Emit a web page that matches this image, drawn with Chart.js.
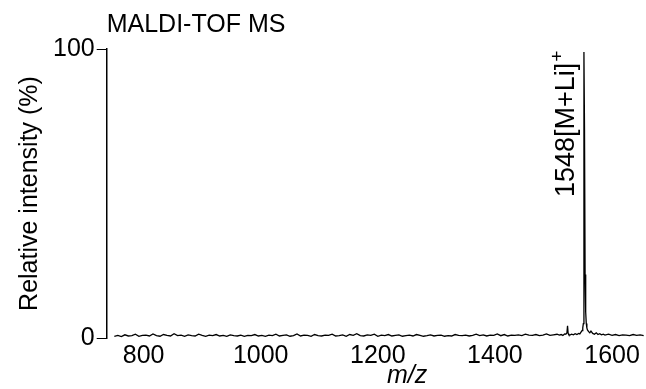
<!DOCTYPE html>
<html>
<head>
<meta charset="utf-8">
<script src="https://cdn.jsdelivr.net/npm/chart.js@4"></script>
<style>
  html, body { margin: 0; padding: 0; background: #fff; }
  #wrap { width: 646px; height: 389px; position: relative; }
</style>
</head>
<body>
<div id="wrap"><canvas id="myChart"></canvas></div>
<script>
// baseline noise, m/z 750 .. 1506 every 6 units (relative intensity %)
var noiseStart = 750;
var noiseStep = 6;
var noiseIntensity = [
  0.6,0.9,0.5,1.1,0.7,0.8,1.3,0.6,0.9,1.0,0.7,1.4,0.8,0.6,1.2,0.9,0.7,1.5,0.8,1.0,
  0.6,1.1,0.8,0.7,1.3,0.9,0.6,1.0,0.8,1.2,0.7,0.9,0.6,1.1,0.8,0.7,1.0,0.6,0.9,0.8,
  1.2,0.7,0.9,0.6,1.0,0.8,1.3,0.7,0.9,1.1,0.6,0.8,1.4,0.7,1.0,0.9,0.6,1.2,0.8,0.7,
  1.0,0.9,1.3,0.7,0.8,1.1,0.6,1.2,0.9,1.5,0.8,0.7,1.1,0.9,1.3,0.6,1.0,0.8,1.2,0.7,
  0.9,1.1,0.6,0.8,1.0,0.7,1.2,0.9,0.6,0.8,1.1,0.7,0.9,1.0,0.6,0.8,0.7,1.2,0.9,0.8,
  1.0,0.7,0.9,1.3,0.8,1.1,0.7,1.0,0.9,1.4,0.8,1.2,0.7,1.0,0.9,1.1,0.8,1.3,1.0,0.9,
  1.2,0.8,1.0,1.4,0.9,1.1,1.3
];
// peak region around [M+Li]+
var peakMz = [1510,1513,1516,1519,1521,1523,1524,1525,1526,1528,1531,1534,1537,1540,1543,1545,1547,1549,1550,1551,1552,1553,1554,1555,1556,1557,1558,1560,1562,1564,1567,1570,1573,1576,1579,1582,1585];
var peakIntensity = [1.0,1.2,0.9,1.4,1.3,1.8,4.2,1.6,1.2,1.0,1.3,1.1,1.5,1.2,1.6,1.4,2.0,2.6,3.5,5.0,99,72,22,9,5,3.5,2.8,2.2,1.8,2.4,1.6,1.3,1.8,1.2,1.5,1.1,1.3];
// tail noise
var tailMz = [1588,1594,1600,1606,1612,1618,1624,1630,1636,1642,1648,1654];
var tailIntensity = [1.0,1.3,0.9,1.2,0.8,1.1,1.0,0.8,1.2,0.9,1.1,0.8];

var xTicks = [800, 1000, 1200, 1400, 1600];
var yTicks = [0, 100];
var peakLabel = '1548[M+Li]';

var points = [];
noiseIntensity.forEach(function (v, i) { points.push({ x: noiseStart + i * noiseStep, y: v }); });
peakMz.forEach(function (m, i) { points.push({ x: m, y: peakIntensity[i] }); });
tailMz.forEach(function (m, i) { points.push({ x: m, y: tailIntensity[i] }); });

var FONT = "'Liberation Sans', Arial, sans-serif";

// peak label + italic m/z title
var extras = {
  id: 'extras',
  afterDraw: function (chart) {
    var ctx = chart.ctx;
    var xs = chart.scales.x;
    ctx.save();
    ctx.fillStyle = '#000';
    // rotated peak label
    ctx.save();
    ctx.translate(xs.getPixelForValue(1552) - 10, 197);
    ctx.rotate(-Math.PI / 2);
    ctx.font = '27px ' + FONT;
    ctx.textAlign = 'left';
    ctx.textBaseline = 'alphabetic';
    ctx.fillText(peakLabel, 0, 0);
    var w = ctx.measureText(peakLabel).width;
    ctx.font = '19px ' + FONT;
    ctx.fillText('+', w + 1, -11);
    ctx.restore();
    // x axis title
    ctx.font = 'italic 25px ' + FONT;
    ctx.textAlign = 'center';
    ctx.textBaseline = 'alphabetic';
    ctx.fillText('m/z', xs.getPixelForValue(1250), 383);
    ctx.restore();
  }
};

var ctx = document.getElementById('myChart').getContext('2d');
var chart = new Chart(ctx, {
  type: 'line',
  data: {
    datasets: [{
      data: points,
      borderColor: '#000',
      borderWidth: 1.3,
      pointRadius: 0,
      tension: 0,
      fill: false
    }]
  },
  options: {
    responsive: true,
    maintainAspectRatio: false,
    animation: false,
    layout: { padding: { left: 15, right: 0, top: 10, bottom: 15 } },
    plugins: {
      legend: { display: false },
      tooltip: { enabled: false },
      title: {
        display: true,
        text: 'MALDI-TOF MS',
        align: 'start',
        fullSize: false,
        color: '#000',
        font: { family: FONT, size: 25, weight: 'normal' },
        padding: { top: 0, bottom: 9 }
      }
    },
    scales: {
      x: {
        type: 'linear',
        min: 737,
        max: 1658,
        afterBuildTicks: function (s) { s.ticks = xTicks.map(function (v) { return { value: v }; }); },
        grid: { display: false, drawTicks: false, tickLength: 0 },
        border: { display: false },
        ticks: {
          color: '#000', font: { family: FONT, size: 25 }, padding: 3, maxRotation: 0, autoSkip: false,
          callback: function (v) { return String(v); }
        }
      },
      y: {
        min: 0,
        max: 100,
        afterBuildTicks: function (s) { s.ticks = yTicks.map(function (v) { return { value: v }; }); },
        grid: { drawOnChartArea: false, drawTicks: true, tickLength: 10, color: '#000', lineWidth: 1 },
        border: { display: true, color: '#000', width: 1.5 },
        ticks: { color: '#000', font: { family: FONT, size: 25 }, padding: 2 },
        title: {
          display: true,
          text: 'Relative intensity (%)',
          color: '#000',
          font: { family: FONT, size: 25 },
          padding: { top: 0, bottom: 6 }
        }
      }
    }
  },
  plugins: [extras]
});
</script>
</body>
</html>
